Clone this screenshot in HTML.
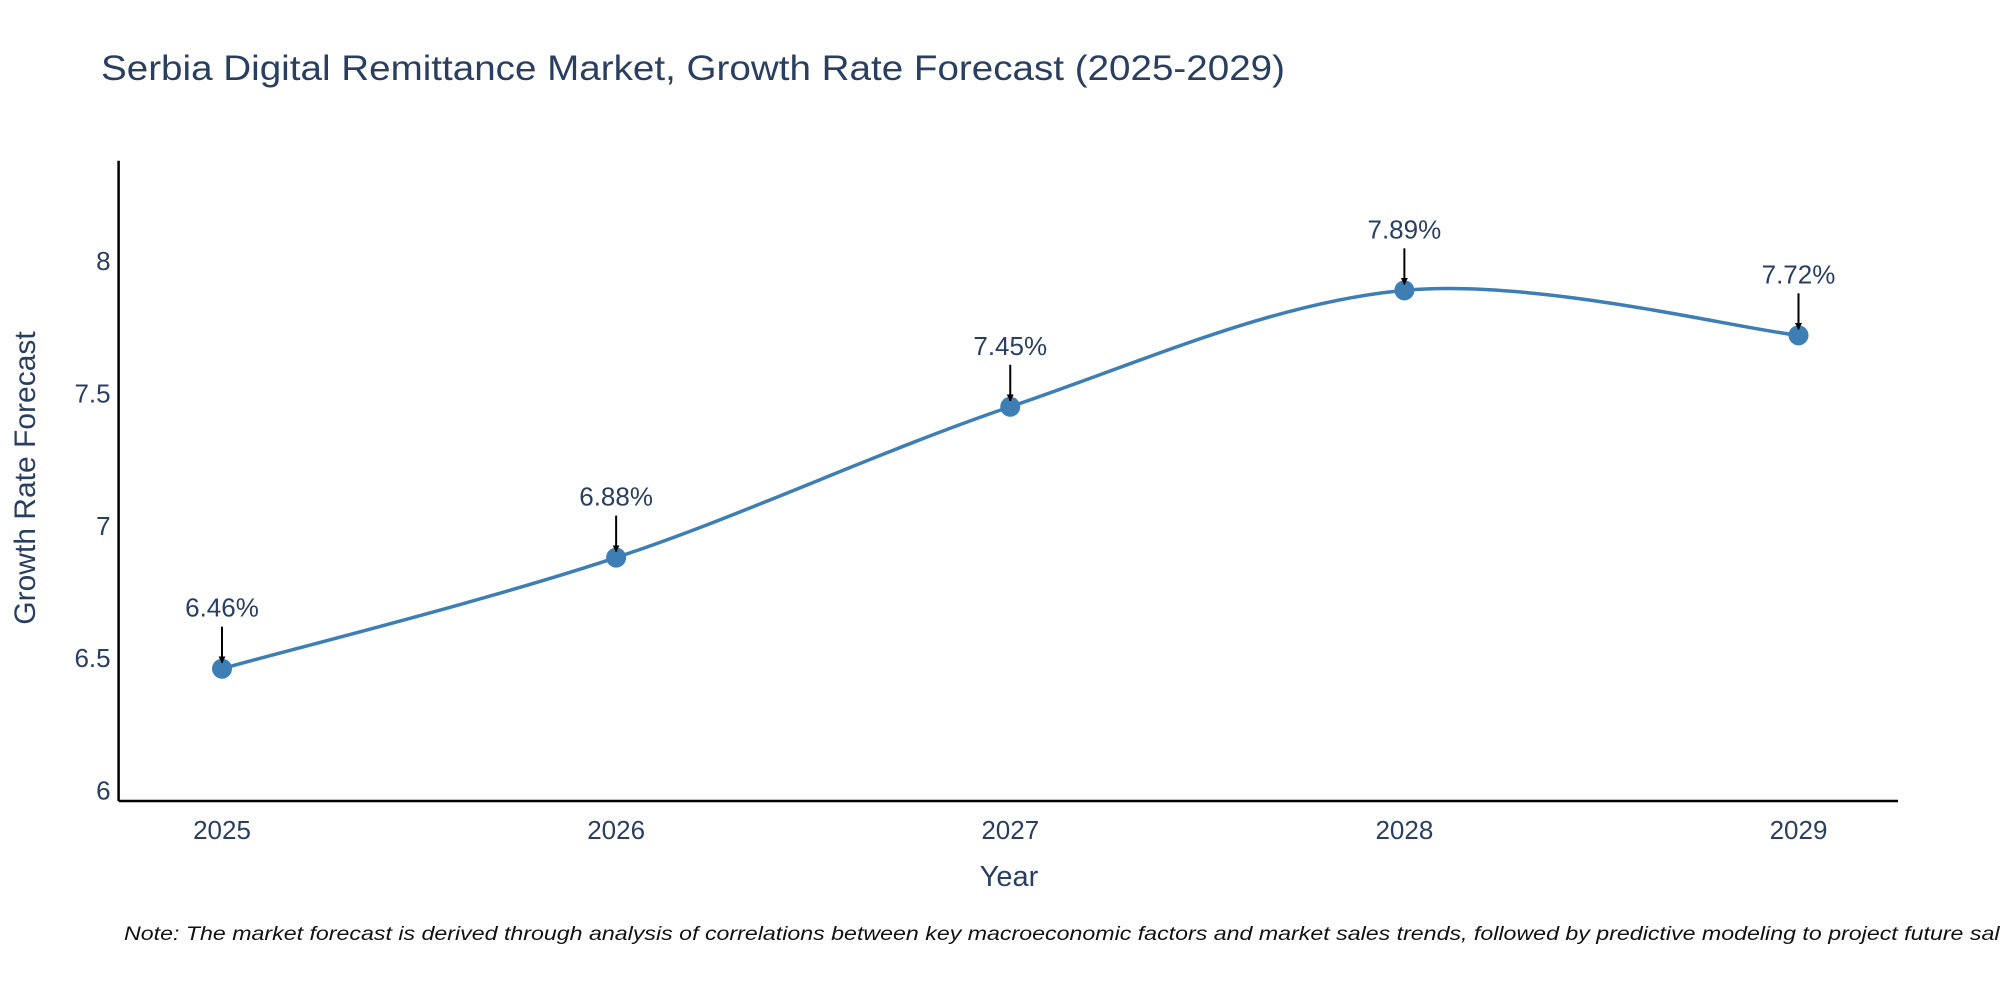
<!DOCTYPE html>
<html><head><meta charset="utf-8"><style>
html,body{margin:0;padding:0;background:#fff;}
svg{display:block;font-family:"Liberation Sans",sans-serif;}
</style></head><body>
<svg id="chart" width="2000" height="1000" viewBox="0 0 2000 1000">
<text x="101" y="80" font-size="35" fill="#2a3f5f" textLength="1184" lengthAdjust="spacingAndGlyphs">Serbia Digital Remittance Market, Growth Rate Forecast (2025-2029)</text>
<g id="plot"></g>
<text x="1009" y="886" font-size="29" fill="#2a3f5f" text-anchor="middle">Year</text>
<text transform="translate(35,478) rotate(-90)" font-size="30" fill="#2a3f5f" text-anchor="middle">Growth Rate Forecast</text>
<text x="124" y="940" font-size="19" font-style="italic" fill="#111" textLength="1900" lengthAdjust="spacingAndGlyphs">Note: The market forecast is derived through analysis of correlations between key macroeconomic factors and market sales trends, followed by predictive modeling to project future sales</text>
</svg>
<script>
const years = [2025, 2026, 2027, 2028, 2029];
const growth = [6.46, 6.88, 7.45, 7.89, 7.72];
const labels = ["6.46%", "6.88%", "7.45%", "7.89%", "7.72%"];
const yTicks = [6, 6.5, 7, 7.5, 8];

const NS = "http://www.w3.org/2000/svg";
const g = document.getElementById('plot');
const X0 = 118.6, X1 = 1898, Y0 = 160.7, Y1 = 801;
const yMin = 5.96, yMax = 8.38;
function xs(v){ return 222 + (v - 2025) * (1798.5 - 222) / 4; }
function ys(v){ return Y1 - (v - yMin) / (yMax - yMin) * (Y1 - Y0); }
function mk(tag, attrs){ const e = document.createElementNS(NS, tag); for (const k in attrs) e.setAttribute(k, attrs[k]); g.appendChild(e); return e; }

const defs = mk('defs', {});
defs.innerHTML = '<marker id="ah" viewBox="0 0 10 10" refX="9" refY="5" markerWidth="7" markerHeight="7" markerUnits="userSpaceOnUse" orient="auto"><path d="M0,0 L10,5 L0,10 z" fill="#000"/></marker>';

let ax = mk('line', {x1:X0, y1:Y1, x2:X1, y2:Y1, stroke:'#000', 'stroke-width':2.5});


let ay = mk('line', {x1:X0, y1:Y0, x2:X0, y2:Y1, stroke:'#000', 'stroke-width':2.5});



yTicks.forEach(t => {
  const e = mk('text', {x:X0 - 8, y:ys(t) + 9, 'font-size':26, fill:'#2a3f5f', 'text-anchor':'end'});
  e.textContent = String(t);
  
  
});
years.forEach(yr => {
  const e = mk('text', {x:xs(yr), y:Y1 + 38, 'font-size':26, fill:'#2a3f5f', 'text-anchor':'middle'});
  e.textContent = String(yr);
  
  
});

const pts = years.map((y, i) => [xs(y), ys(growth[i])]);
let d = 'M' + pts[0][0] + ',' + pts[0][1];
for (let i = 0; i < pts.length - 1; i++) {
  const p0 = pts[i - 1] || pts[i], p1 = pts[i], p2 = pts[i + 1], p3 = pts[i + 2] || p2;
  const c1 = [p1[0] + (p2[0] - p0[0]) / 6, p1[1] + (p2[1] - p0[1]) / 6];
  const c2 = [p2[0] - (p3[0] - p1[0]) / 6, p2[1] - (p3[1] - p1[1]) / 6];
  d += ' C' + c1 + ' ' + c2 + ' ' + p2;
}
const line = mk('path', {d:d, fill:'none', stroke:'#3d7fb4', 'stroke-width':3.5});



pts.forEach((p, i) => {
  const c = mk('circle', {cx:p[0], cy:p[1], r:10, fill:'#3d7fb4'});
  
  
  const a = mk('line', {x1:p[0], y1:p[1] - 42, x2:p[0], y2:p[1] - 6, stroke:'#000', 'stroke-width':2, 'marker-end':'url(#ah)'});
  
  
  const t = mk('text', {x:p[0], y:p[1] - 52, 'font-size':26, fill:'#2a3f5f', 'text-anchor':'middle'});
  t.textContent = labels[i];
  
  
});
</script>
</body></html>
